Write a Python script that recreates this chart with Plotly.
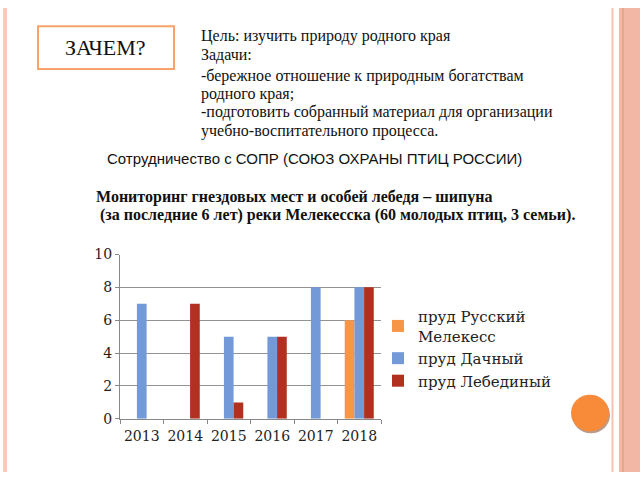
import plotly.graph_objects as go

years = ["2013", "2014", "2015", "2016", "2017", "2018"]
series_names = ["пруд Русский<br>Мелекесс", "пруд Дачный", "пруд Лебединый"]
russkiy = [0, 0, 0, 0, 0, 6]
dachny = [7, 0, 5, 5, 8, 8]
lebediny = [0, 7, 1, 5, 0, 8]
colors = ["#f79646", "#7399d8", "#b1301f"]

W, H = 640, 480
def px(x): return x / W
def py(y): return 1 - y / H

fig = go.Figure()
for name, vals, c in zip(series_names, [russkiy, dachny, lebediny], colors):
    fig.add_trace(go.Bar(x=years, y=vals, name=name, marker=dict(color=c, line=dict(width=0))))

serif = "DejaVu Serif"
fig.update_layout(
    width=W, height=H, margin=dict(l=0, r=0, t=0, b=0),
    paper_bgcolor="white", plot_bgcolor="white",
    barmode="group", bargap=0.333, bargroupgap=0,
    showlegend=True,
    legend=dict(x=px(378), y=py(302), xanchor="left", yanchor="top",
                font=dict(family=serif, size=15, color="#222"),
                itemwidth=30, bgcolor="rgba(0,0,0,0)"),
    xaxis=dict(domain=[px(120), px(381)], type="category", tickson="boundaries",
               ticks="outside", ticklen=4, tickcolor="#888", showline=True,
               linecolor="#888", showgrid=False, ticklabelstandoff=4, tickangle=0,
               tickfont=dict(family=serif, size=14, color="#222")),
    yaxis=dict(domain=[py(425), py(255)], range=[0, 10], dtick=2,
               ticks="outside", ticklen=4, tickcolor="#888", showline=True,
               linecolor="#888", gridcolor="#939393", gridwidth=1, zeroline=False,
               tickfont=dict(family=serif, size=14, color="#222")),
)

shapes = [
    dict(type="rect", xref="paper", yref="paper", x0=px(3), x1=px(7), y0=0, y1=1,
         fillcolor="#fccab8", line=dict(width=0), layer="below"),
    dict(type="rect", xref="paper", yref="paper", x0=px(611.5), x1=px(613.5), y0=0, y1=1,
         fillcolor="#f7c2b2", line=dict(width=0), layer="below"),
    dict(type="rect", xref="paper", yref="paper", x0=px(619), x1=1, y0=0, y1=1,
         fillcolor="#f2b7a5", line=dict(width=0), layer="below"),
    dict(type="rect", xref="paper", yref="paper", x0=px(622), x1=px(624), y0=0, y1=1,
         fillcolor="#eba58f", line=dict(width=0), layer="below"),
    dict(type="rect", xref="paper", yref="paper", x0=px(38), x1=px(174), y0=py(63), y1=py(19),
         fillcolor="white", line=dict(color="#f7a36b", width=2)),
    dict(type="circle", xref="paper", yref="paper", x0=px(572), x1=px(610), y0=py(440), y1=py(402),
         fillcolor="#b89a8a", line=dict(width=0)),
    dict(type="circle", xref="paper", yref="paper", x0=px(571), x1=px(609), y0=py(438), y1=py(400),
         fillcolor="#f88b3a", line=dict(width=0)),
]
fig.update_layout(shapes=shapes)

ann = []
ann.append(dict(text="ЗАЧЕМ?", x=px(105), y=py(41), xref="paper", yref="paper",
                showarrow=False, xanchor="center", yanchor="middle",
                font=dict(family="Liberation Serif", size=22, color="#111")))
lines = [
    ("Цель: изучить природу родного края", 29),
    ("Задачи:", 49),
    ("-бережное отношение к природным богатствам", 70),
    ("родного края;", 89),
    ("-подготовить собранный материал для организации", 108),
    ("учебно-воспитательного процесса.", 127),
]
for t, y in lines:
    ann.append(dict(text=t, x=px(199), y=py(y), xref="paper", yref="paper",
                    showarrow=False, xanchor="left", yanchor="middle",
                    font=dict(family="Liberation Serif", size=16, color="#111")))
ann.append(dict(text="Сотрудничество с СОПР (СОЮЗ ОХРАНЫ ПТИЦ РОССИИ)", x=px(105), y=py(156),
                xref="paper", yref="paper", showarrow=False, xanchor="left", yanchor="middle",
                font=dict(family="Liberation Sans", size=15, color="#111")))
ann.append(dict(text="<b>Мониторинг гнездовых мест и особей лебедя – шипуна</b>", x=px(94), y=py(195),
                xref="paper", yref="paper", showarrow=False, xanchor="left", yanchor="middle",
                font=dict(family="Liberation Serif", size=16, color="#111")))
ann.append(dict(text="<b> (за последние 6 лет) реки Мелекесска (60 молодых птиц, 3 семьи).</b>", x=px(94), y=py(214),
                xref="paper", yref="paper", showarrow=False, xanchor="left", yanchor="middle",
                font=dict(family="Liberation Serif", size=16, color="#111")))
fig.update_layout(annotations=ann)

fig.write_html("out.html",
               post_script="document.body.style.margin='0';document.body.style.overflow='hidden';")
